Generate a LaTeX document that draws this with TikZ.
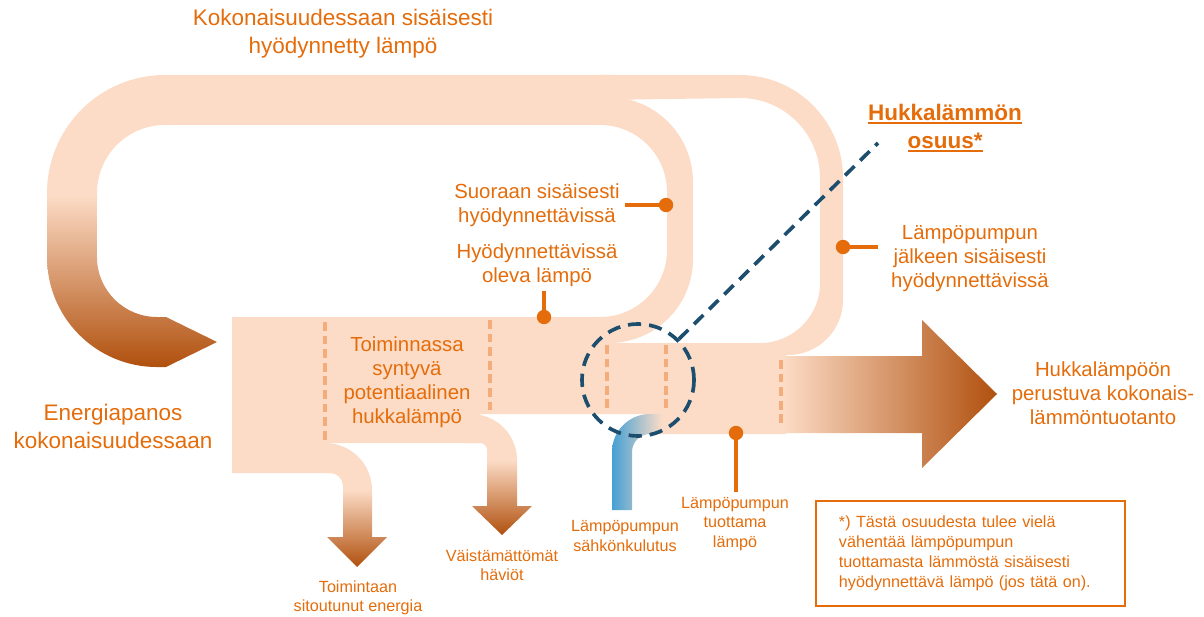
\documentclass[tikz,border=0pt]{standalone}
\usepackage{fontspec}
\setmainfont{Liberation Sans}
\usetikzlibrary{positioning}

\definecolor{hkpeach}{RGB}{252,220,198}
\definecolor{hkbrown}{RGB}{176,80,14}
\definecolor{hkorange}{RGB}{228,108,10}
\definecolor{hkdash}{RGB}{243,172,122}
\definecolor{hknavy}{RGB}{30,78,110}
\definecolor{hkblue}{RGB}{70,160,212}
\definecolor{hkpale}{RGB}{190,214,230}

\newcommand{\hkuline}[1]{\setbox0\hbox{#1}\rlap{\rule[-3pt]{\wd0}{1.4pt}}\box0}

\begin{document}
\begin{tikzpicture}[x=0.025cm, y=-0.025cm,
    flowband/.style={fill=hkpeach},
    bigtxt/.style={text=hkorange, align=center, font=\fontsize{16}{19.9}\selectfont},
    midtxt/.style={text=hkorange, align=center, font=\fontsize{14.5}{17}\selectfont},
    smalltxt/.style={text=hkorange, align=center, font=\fontsize{11.5}{13.9}\selectfont},
    cutline/.style={draw=hkdash, line width=2.6pt, dash pattern=on 0.22cm off 0.12cm},
    pindot/.style={circle, fill=hkorange, inner sep=0pt, minimum size=0.36cm},
    pinline/.style={draw=hkorange, line width=2.2pt},
    hpdash/.style={draw=hknavy, line width=2.6pt, dash pattern=on 0.33cm off 0.2cm}]
    \useasboundingbox (0,0) rectangle (1204,617);

    % Big loop back to the input (top and left side)
    \fill[flowband] (47,200) -- (47,193) arc[start angle=180, end angle=90, radius=2.95cm]
        -- (612,75) -- (612,125) -- (165,125) arc[start angle=90, end angle=180, radius=1.7cm]
        -- (97,200) -- cycle;
    \shade[top color=hkpeach, bottom color=hkbrown] (47,195) -- (47,257)
        arc[start angle=180, end angle=270, radius=2.75cm] -- (166,367) -- (217,342) -- (166,317)
        -- (157,317) arc[start angle=270, end angle=180, radius=1.5cm] -- (97,195) -- cycle;

    % Outer loop (after the heat pump)
    \fill[flowband] (600,75) -- (740,75) arc[start angle=90, end angle=0, radius=2.575cm]
        -- (843,300) arc[start angle=0, end angle=-90, radius=1.375cm] -- (740,355) -- (740,343)
        -- (760,343) arc[start angle=-90, end angle=0, radius=1.5cm]
        -- (820,178) arc[start angle=0, end angle=90, radius=2cm] -- (600,100) -- cycle;

    % Inner loop (directly usable)
    \fill[flowband] (560,97) -- (608,97) arc[start angle=90, end angle=0, radius=2.125cm]
        -- (693,259) arc[start angle=0, end angle=-90, radius=2.1cm] -- (560,343) -- (560,317)
        -- (600,317) arc[start angle=-90, end angle=0, radius=1.675cm]
        -- (667,192) arc[start angle=0, end angle=90, radius=1.675cm] -- (560,125) -- cycle;

    % Main flow
    \fill[flowband] (232,317) -- (605,317) -- (605,343) -- (786,343) -- (786,434) -- (660,434)
        -- (660,414) -- (480,414) -- (480,443) -- (330,443) -- (330,473) -- (232,473) -- cycle;

    % Branch: bound energy
    \fill[flowband] (320,443) -- (325,443) arc[start angle=90, end angle=0, radius=1.175cm]
        -- (372,492) -- (343,492) -- (343,486) arc[start angle=0, end angle=90, radius=0.325cm]
        -- (320,473) -- cycle;
    \shade[top color=hkpeach, bottom color=hkbrown] (343,490) -- (372,490) -- (372,537)
        -- (387,537) -- (357,567) -- (327,537) -- (343,537) -- cycle;

    % Branch: unavoidable losses
    \fill[flowband] (465,414) -- (471,414) arc[start angle=90, end angle=0, radius=1.15cm]
        -- (517,462) -- (487,462) -- (487,450) arc[start angle=0, end angle=90, radius=0.175cm]
        -- (465,443) -- cycle;
    \shade[top color=hkpeach, bottom color=hkbrown] (487,460) -- (517,460) -- (517,506)
        -- (532,506) -- (502,535) -- (472,506) -- (487,506) -- cycle;

    % Heat pump electricity
    \shade[left color=hkblue, middle color=hkpale, right color=hkpeach] (612,510) -- (612,452)
        arc[start angle=180, end angle=90, radius=0.95cm] -- (662,414) -- (662,434) -- (650,434)
        arc[start angle=90, end angle=180, radius=0.45cm] -- (632,510) -- cycle;

    % Output arrow
    \shade[left color=hkpeach, right color=hkbrown] (782,356) -- (922,356) -- (922,320)
        -- (997,394) -- (922,468) -- (922,433) -- (782,433) -- cycle;

    % Dashed cuts
    \draw[cutline] (325,322) -- (325,440);
    \draw[cutline] (490,320) -- (490,412);
    \foreach \xc in {607,666} {
        \draw[cutline] (\xc,345) -- (\xc,412);
    }
    \draw[cutline] (781,360) -- (781,428);

    % Labels
    \node[bigtxt] (title) at (343,34) {Kokonaisuudessaan sisäisesti\\hyödynnetty lämpö};
    \node[bigtxt] (energia) at (113,426) {Energiapanos\\kokonaisuudessaan};
    \node[midtxt] (toiminnassa) at (407,382) {Toiminnassa\\syntyvä\\potentiaalinen\\hukkalämpö};
    \node[midtxt] (suoraan) at (537,205) {Suoraan sisäisesti\\hyödynnettävissä};
    \node[midtxt] (hyodynn) at (537,265) {Hyödynnettävissä\\oleva lämpö};
    \node[midtxt] (jalkeen) at (970,259) {Lämpöpumpun\\jälkeen sisäisesti\\hyödynnettävissä};
    \node[bigtxt, font=\fontsize{16}{19.9}\selectfont\bfseries] (osuus) at (945,128)
        {\hkuline{Hukkalämmön}\\\hkuline{osuus*}};
    \node[midtxt] (tuotanto) at (1103,393) {Hukkalämpöön\\perustuva kokonais-\\lämmöntuotanto};
    \node[smalltxt] (sahko) at (625,536) {Lämpöpumpun\\sähkönkulutus};
    \node[smalltxt] (tuottama) at (735,524) {Lämpöpumpun\\tuottama\\lämpö};
    \node[smalltxt] (haviot) at (502,565) {Väistämättömät\\häviöt};
    \node[smalltxt] (sitoutunut) at (358,598) {Toimintaan\\sitoutunut energia};

    % Pins
    \node[pindot] (dotsuoraan) at (666,205) {};
    \node[pindot] (dothyod) at (544,317) {};
    \node[pindot] (dotjalkeen) at (843,247) {};
    \node[pindot] (dottuottama) at (736,433) {};
    \draw[pinline] (suoraan.east) -- (dotsuoraan);
    \draw[pinline] (dothyod |- hyodynn.south) -- (dothyod);
    \draw[pinline, shorten >=0.2cm] (dotjalkeen) -- (dotjalkeen -| jalkeen.west);
    \draw[pinline] (dottuottama) -- (dottuottama |- tuottama.north);

    % Heat pump circle
    \node[hpdash, circle, minimum size=2.8cm] (hpcirc) at (638,380) {};
    \coordinate (osuuskulma) at (878,143);
    \draw[hpdash] (hpcirc.45) -- (osuuskulma);

    % Note box
    \node[draw=hkorange, line width=1.8pt, text=hkorange, align=left, text width=6.575cm,
        inner xsep=0.575cm, minimum height=2.625cm, font=\fontsize{11.5}{14.2}\selectfont]
        (note) at (970.5,553.5) {*) Tästä osuudesta tulee vielä\\vähentää lämpöpumpun\\tuottamasta lämmöstä sisäisesti\\hyödynnettävä lämpö (jos tätä on).};
\end{tikzpicture}
\end{document}
